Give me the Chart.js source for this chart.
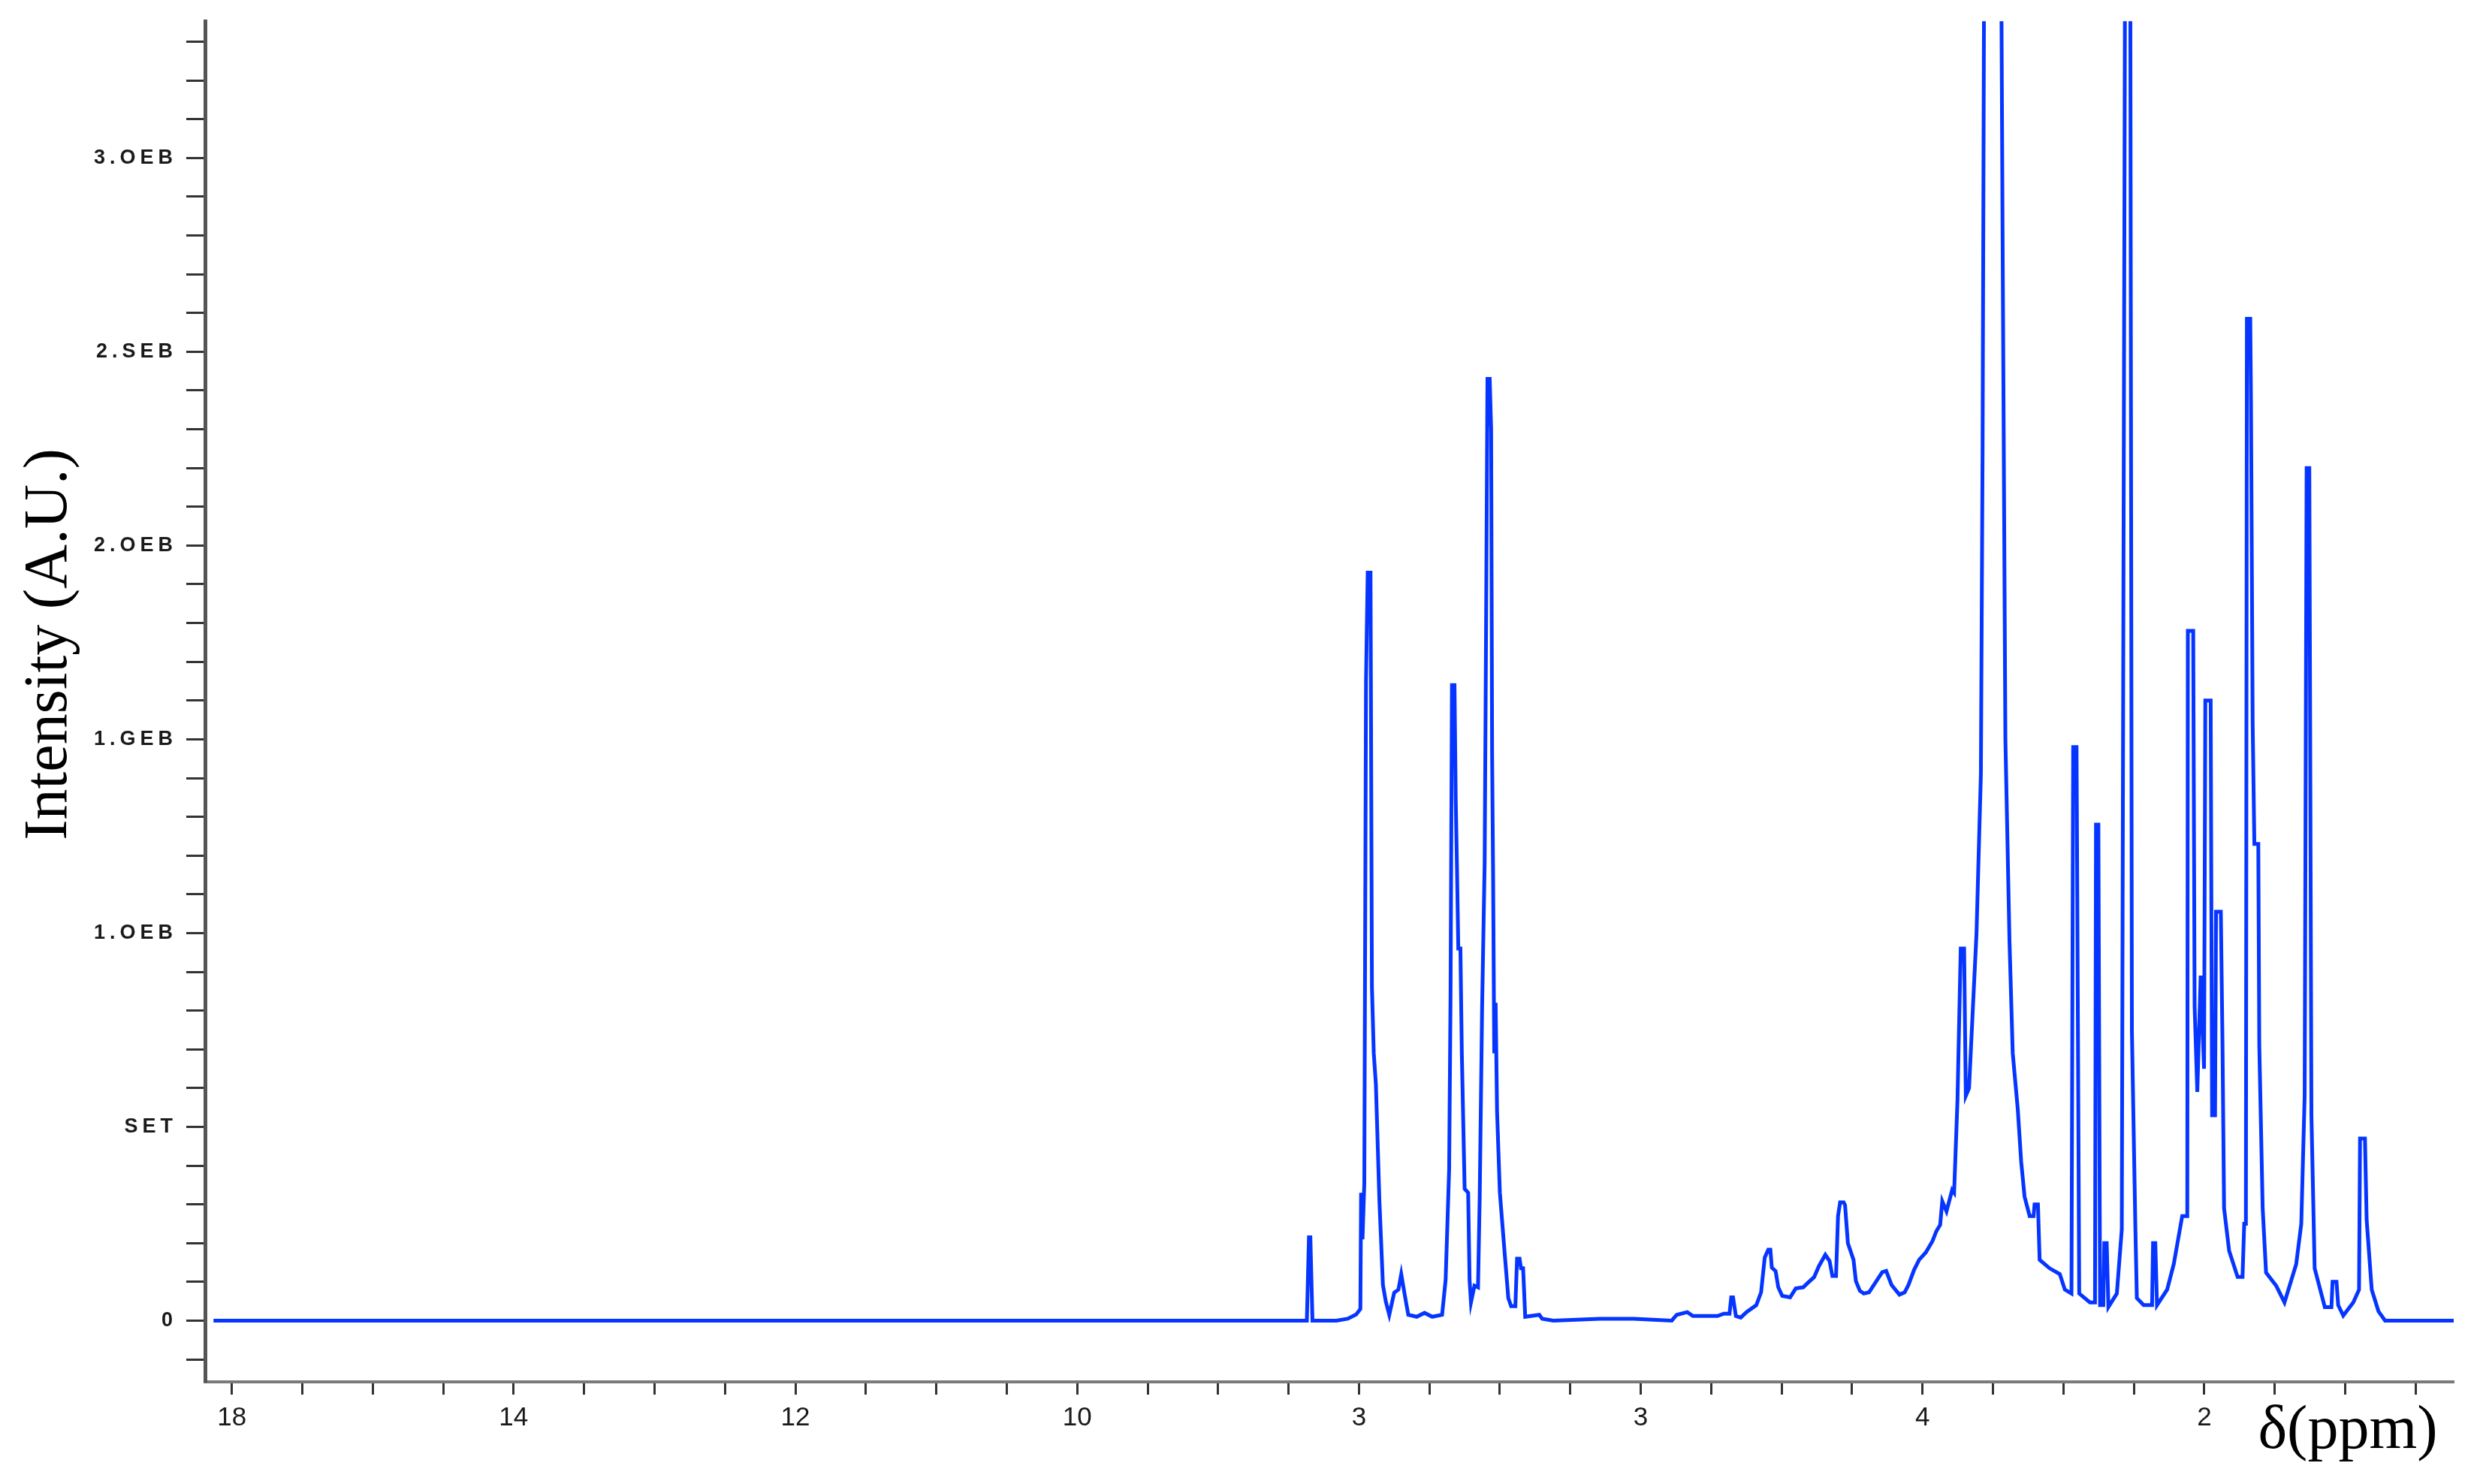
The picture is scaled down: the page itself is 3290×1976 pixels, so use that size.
<!DOCTYPE html>
<html lang="en">
<head>
    <meta charset="UTF-8">
    <title>NMR spectrum</title>
    <script src="https://cdn.jsdelivr.net/npm/chart.js"></script>
    <style>
        html, body { margin: 0; padding: 0; background: #fff; }
        canvas { display: block; }
    </style>
</head>
<body>
    <canvas id="nmrChart" width="3290" height="1976"></canvas>

    <script>
        // chemical shift (ppm) and intensity (x1e8, A.U.)
        const shift = [
            16.13, 8.37, 8.355, 8.345, 8.33, 8.16, 8.08, 8.02, 7.99, 7.985, 7.975, 7.962, 7.95, 7.938, 7.918, 7.908,
            7.895, 7.88, 7.855, 7.83, 7.81, 7.785, 7.75, 7.72, 7.70, 7.675, 7.65, 7.59, 7.535, 7.48, 7.41, 7.385,
            7.36, 7.35, 7.34, 7.322, 7.313, 7.304, 7.295, 7.28, 7.27, 7.25, 7.225, 7.215, 7.205, 7.18, 7.155, 7.143,
            7.126, 7.108, 7.099, 7.088, 7.072, 7.062, 7.055, 7.048, 7.04, 7.03, 7.02, 7.0, 6.965, 6.94, 6.92, 6.89,
            6.878, 6.86, 6.85, 6.835, 6.82, 6.72, 6.70, 6.62,
            6.29, 6.05, 5.78, 5.745, 5.67, 5.63, 5.455, 5.41, 5.37, 5.358, 5.345, 5.325, 5.29, 5.25, 5.18, 5.146,
            5.12, 5.095, 5.08, 5.07, 5.043, 5.024, 4.996, 4.94, 4.90, 4.847, 4.81, 4.77, 4.735, 4.69, 4.66, 4.64,
            4.614, 4.60, 4.585, 4.56, 4.55, 4.53, 4.49, 4.473, 4.445, 4.417, 4.38, 4.333, 4.286, 4.258, 4.22, 4.164,
            4.127, 4.10, 4.06, 4.024, 3.977, 3.93, 3.902, 3.875, 3.86, 3.83, 3.79,
            3.776, 3.752, 3.729, 3.705, 3.693, 3.67, 3.645, 3.617, 3.586, 3.574, 3.562, 3.53, 3.48, 3.443, 3.431, 3.412,
            3.383, 3.36, 3.324, 3.30, 3.276, 3.24, 3.212, 3.205, 3.181, 3.169, 3.098, 3.026, 2.99, 2.943, 2.931, 2.907,
            2.888, 2.812, 2.776, 2.769, 2.752, 2.74, 2.717, 2.71, 2.693, 2.681, 2.621, 2.586, 2.562, 2.526, 2.514, 2.49,
            2.479, 2.431, 2.371, 2.364, 2.348, 2.336, 2.264, 2.217, 2.157, 2.121, 2.117, 2.079, 2.069, 2.05, 2.026, 2.002,
            1.993, 1.955, 1.945, 1.924, 1.917, 1.883, 1.871, 1.86, 1.824, 1.764, 1.729, 1.717, 1.705, 1.698, 1.674, 1.669,
            1.657, 1.645, 1.617, 1.61, 1.586, 1.562, 1.49, 1.431, 1.348, 1.312, 1.288, 1.274, 1.255, 1.24, 1.217, 1.145,
            1.098, 1.09, 1.062, 1.05, 1.014, 0.943, 0.902, 0.895, 0.86, 0.848, 0.812, 0.764, 0.717, 0.23
        ];
        const intensity = [
            0, 0, 0.215, 0.215, 0, 0, 0.005, 0.016, 0.03, 0.33, 0.21, 0.356, 1.65, 1.93, 1.93, 0.86,
            0.69, 0.61, 0.31, 0.092, 0.05, 0.015, 0.072, 0.08, 0.12, 0.066, 0.015, 0.01, 0.02, 0.01, 0.015, 0.105,
            0.39, 0.84, 1.64, 1.64, 1.34, 1.16, 0.96, 0.96, 0.69, 0.34, 0.33, 0.105, 0.047, 0.09, 0.086, 0.32,
            0.81, 1.18, 1.72, 2.43, 2.43, 2.3, 1.46, 1.15, 0.69, 0.82, 0.54, 0.33, 0.17, 0.058, 0.037, 0.037,
            0.16, 0.16, 0.135, 0.135, 0.01, 0.015, 0.005, 0,
            0.005, 0.005, 0, 0.015, 0.022, 0.012, 0.012, 0.018, 0.018, 0.06, 0.06, 0.012, 0.008, 0.022, 0.04, 0.073,
            0.163, 0.183, 0.183, 0.137, 0.128, 0.086, 0.064, 0.06, 0.083, 0.086, 0.099, 0.112, 0.141, 0.17, 0.154, 0.115,
            0.115, 0.27, 0.305, 0.305, 0.298, 0.2, 0.157, 0.102, 0.077, 0.07, 0.073, 0.099, 0.125, 0.128, 0.092, 0.067,
            0.073, 0.092, 0.131, 0.157, 0.176, 0.205, 0.231, 0.247, 0.308, 0.282, 0.337,
            0.33, 0.57, 0.96, 0.96, 0.58, 0.6, 0.79, 1.0, 1.41, 2.24, 3.6, 3.9, 3.8, 3.6, 2.74, 1.5,
            0.98, 0.69, 0.545, 0.41, 0.32, 0.27, 0.27, 0.30, 0.30, 0.157, 0.135, 0.12, 0.08, 0.07, 1.48, 1.48,
            0.07, 0.047, 0.047, 1.28, 1.28, 0.04, 0.04, 0.2, 0.2, 0.035, 0.07, 0.235, 3.6, 3.6, 0.745, 0.25,
            0.058, 0.04, 0.04, 0.2, 0.2, 0.04, 0.08, 0.146, 0.27, 0.27, 1.78, 1.78, 0.81, 0.59, 0.89, 0.65,
            1.60, 1.60, 0.53, 0.53, 1.055, 1.055, 0.71, 0.29, 0.18, 0.113, 0.113, 0.25, 0.25, 2.585, 2.585, 2.37,
            1.54, 1.23, 1.23, 0.71, 0.29, 0.124, 0.09, 0.047, 0.146, 0.25, 0.58, 2.2, 2.2, 0.53, 0.135, 0.035,
            0.035, 0.1, 0.1, 0.04, 0.013, 0.047, 0.08, 0.47, 0.47, 0.26, 0.08, 0.024, 0, 0
        ];

        // tick labels as printed on the original axes
        const xTickValues = [16, 14, 12, 10, 8, 6, 4, 2];
        const xTickLabels = ['18', '14', '12', '10', '3', '3', '4', '2'];
        const yTickValues = [0, 0.5, 1.0, 1.5, 2.0, 2.5, 3.0];
        const yTickLabels = ['0', 'SET', '1.OEB', '1.GEB', '2.OEB', '2.SEB', '3.OEB'];

        const points = shift.map((x, i) => ({ x: x, y: intensity[i] }));

        const labelFor = (vals, labels, v) => {
            const i = vals.findIndex(t => Math.abs(t - v) < 1e-6);
            return i >= 0 ? labels[i] : '';
        };

        const titles = {
            id: 'titles',
            afterDatasetsDraw(chart) {
                chart.ctx.letterSpacing = '6px';   // wide y tick labels
            },
            afterDraw(chart) {
                const ctx = chart.ctx;
                ctx.save();
                ctx.letterSpacing = '0px';
                ctx.fillStyle = '#000';
                ctx.font = '82px "Liberation Serif", "Times New Roman", serif';
                ctx.textAlign = 'center';
                ctx.textBaseline = 'middle';
                ctx.translate(66, 858);
                ctx.rotate(-Math.PI / 2);
                ctx.fillText('Intensity (A.U.)', 0, 0);
                ctx.restore();

                ctx.save();
                ctx.letterSpacing = '0px';
                ctx.fillStyle = '#000';
                ctx.font = '82px "Liberation Serif", "Times New Roman", serif';
                ctx.textAlign = 'center';
                ctx.textBaseline = 'middle';
                ctx.fillText('δ(ppm)', 3126, 1906);
                ctx.restore();
            }
        };

        new Chart(document.getElementById('nmrChart'), {
            type: 'line',
            data: {
                datasets: [{
                    data: points,
                    borderColor: '#0535ff',
                    borderWidth: 5,
                    pointRadius: 0,
                    tension: 0,
                    fill: false
                }]
            },
            options: {
                responsive: false,
                animation: false,
                devicePixelRatio: 1,
                layout: { padding: { top: 21, right: 23, left: 0, bottom: 0 } },
                plugins: { legend: { display: false }, tooltip: { enabled: false } },
                scales: {
                    x: {
                        type: 'linear',
                        reverse: true,
                        min: 0.23,
                        max: 16.19,
                        afterBuildTicks(scale) {
                            const t = [];
                            for (let v = 16; v >= 0.5; v -= 0.5) t.push({ value: v });
                            scale.ticks = t;
                        },
                        afterFit(scale) { scale.height = 136; },
                        grid: { drawOnChartArea: false, drawTicks: true, tickLength: 17, tickColor: '#333', tickWidth: 3 },
                        border: { display: true, color: '#7a7a7a', width: 4 },
                        ticks: {
                            autoSkip: false,
                            maxRotation: 0,
                            padding: 10,
                            color: '#1a1a1a',
                            font: { family: '"Liberation Sans", Arial, sans-serif', size: 35 },
                            callback: v => labelFor(xTickValues, xTickLabels, v)
                        }
                    },
                    y: {
                        type: 'linear',
                        min: -0.158,
                        max: 3.353,
                        afterBuildTicks(scale) {
                            const t = [];
                            for (let i = -1; i <= 33; i++) t.push({ value: Math.round(i) / 10 });
                            scale.ticks = t;
                        },
                        afterFit(scale) { scale.width = 273; },
                        grid: { drawOnChartArea: false, drawTicks: true, tickLength: 25, tickColor: '#333', tickWidth: 3 },
                        border: { display: true, color: '#555', width: 5 },
                        ticks: {
                            z: 1,
                            autoSkip: false,
                            padding: 12,
                            color: '#1a1a1a',
                            font: { family: '"Liberation Sans", Arial, sans-serif', size: 27, weight: 'bold' },
                            callback: v => labelFor(yTickValues, yTickLabels, v)
                        }
                    }
                }
            },
            plugins: [titles]
        });
    </script>
</body>
</html>
